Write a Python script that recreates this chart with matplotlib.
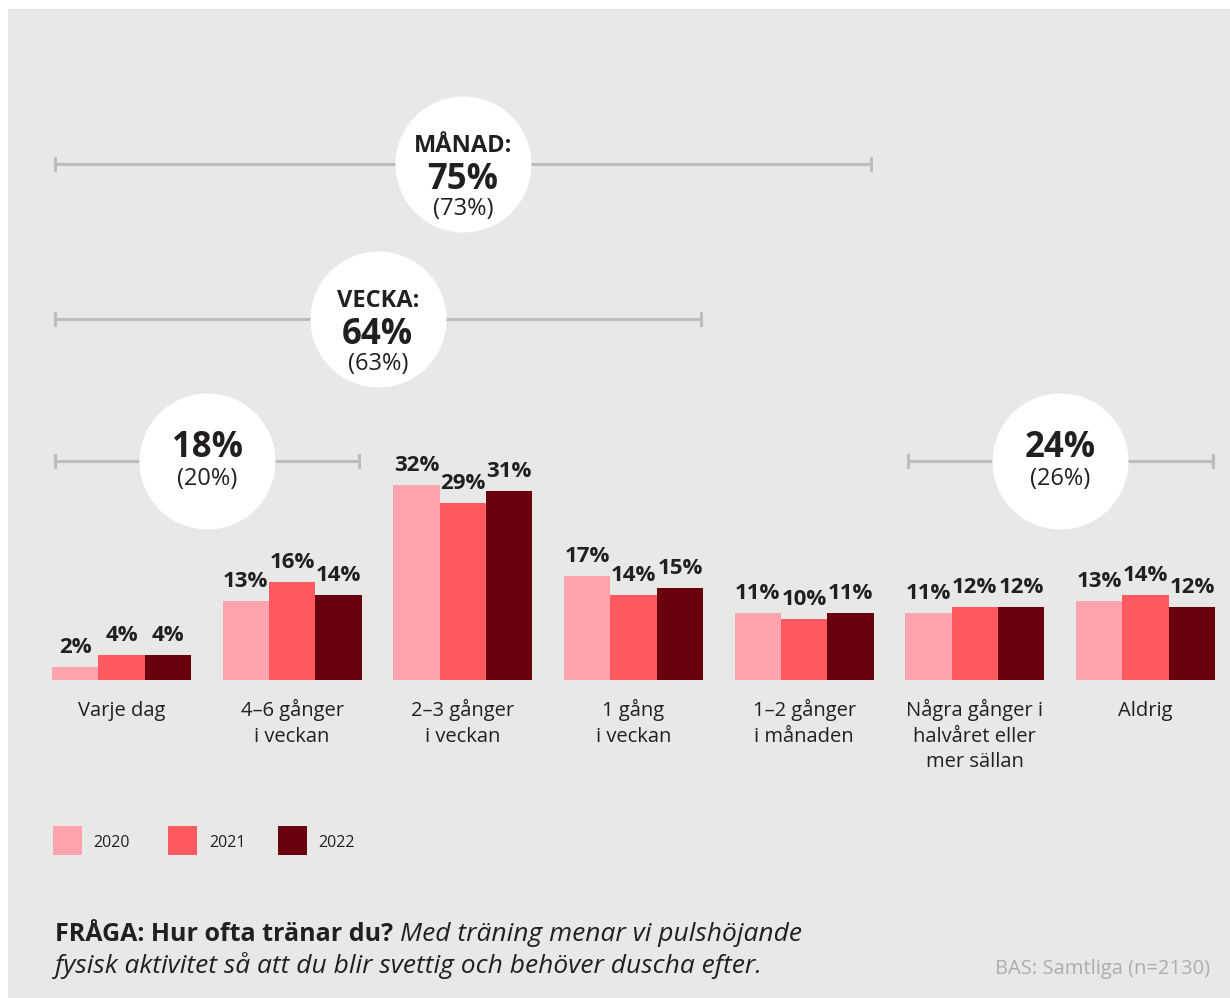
import numpy as np
import matplotlib
matplotlib.use('Agg')
import matplotlib.pyplot as plt
from matplotlib.patches import Rectangle

plt.rcParams['font.family'] = ['Open Sans', 'DejaVu Sans']

# Survey answers: share per frequency class and year
categories = ['Varje dag', '4–6 gånger\ni veckan', '2–3 gånger\ni veckan', '1 gång\ni veckan',
              '1–2 gånger\ni månaden', 'Några gånger i\nhalvåret eller\nmer sällan', 'Aldrig']
years = ['2020', '2021', '2022']
share_2020 = [2, 13, 32, 17, 11, 11, 13]
share_2021 = [4, 16, 29, 14, 10, 12, 14]
share_2022 = [4, 14, 31, 15, 11, 12, 12]

# Summary circles: heading, 2022 value, 2021 value, first and last category covered
summary_heads = ['MÅNAD:', 'VECKA:', '', '']
summary_now = [75, 64, 18, 24]
summary_prev = [73, 63, 20, 26]
summary_first = [0, 0, 0, 5]
summary_last = [4, 3, 1, 6]

colors = ['#ffa4ae', '#ff5a60', '#6a000e']
bg = '#e8e8e6'
ink = '#231f20'
bracket_col = '#bdbdbb'

W, H = 1230, 998
BASE = 679.5     # baseline of bars, pixels from top
PXPCT = 6.07     # pixels per percent
STEP = 170.67    # pixels between groups
X0 = 121.5       # centre of first group in pixels
LINE = 25.5      # line step of category labels in pixels


def dy(p):
    # pixel row (from top) -> data y
    return (BASE - p) / PXPCT


def fx(p):
    return p / W


def fy(p):
    return 1 - p / H


fig = plt.figure(figsize=(W / 100, H / 100), dpi=100, facecolor='white')
ax = fig.add_axes([0, 0, 1, 1])
ax.set_xlim(-X0 / STEP, (W - X0) / STEP)
ax.set_ylim(-(H - BASE) / PXPCT, BASE / PXPCT)
ax.axis('off')
ax.add_patch(Rectangle((fx(8), 0), 1 - fx(8), fy(9), transform=fig.transFigure,
                       facecolor=bg, edgecolor='none', zorder=0))

x = np.arange(len(categories))
bw = 46.4 / STEP
series = [share_2020, share_2021, share_2022]
for i, (vals, col) in enumerate(zip(series, colors)):
    xs = x + (i - 1) * bw
    ax.bar(xs, vals, width=bw, color=col, linewidth=0, zorder=2)
    for xi, v in zip(xs, vals):
        ax.text(xi, v + 14 / PXPCT, f'{v}%', ha='center', va='baseline',
                fontsize=16, fontweight='bold', color=ink, zorder=4)

# category names, one text line at a time
for xi, lab in zip(x, categories):
    for k, line in enumerate(lab.split('\n')):
        ax.text(xi, dy(716 + k * LINE), line, ha='center', va='baseline', fontsize=14.5,
                color=ink, zorder=4)

# brackets with white circles on top
bracket_rows = [164, 319, 461, 461]
for head, now, prev, a, b, row in zip(summary_heads, summary_now, summary_prev,
                                      summary_first, summary_last, bracket_rows):
    left = a - 1.5 * bw + 3 / STEP
    right = b + 1.5 * bw - 2.5 / STEP
    y = dy(row)
    ax.plot([left, right], [y, y], color=bracket_col, lw=2.2, zorder=1, solid_capstyle='butt')
    for xe in (left, right):
        ax.plot([xe, xe], [y - 1, y + 1], color=bracket_col, lw=2.2, zorder=1)
    cx = (left + right) / 2
    ax.scatter([cx], [y], s=(136 * 0.72) ** 2, color='white', linewidths=0, zorder=3)
    if head:
        ax.text(cx, dy(row - 12), head, ha='center', va='baseline', fontsize=17,
                fontweight='bold', color=ink, zorder=4)
        ax.text(cx, dy(row + 25), f'{now}%', ha='center', va='baseline', fontsize=25,
                fontweight='bold', color=ink, zorder=4)
        ax.text(cx, dy(row + 51), f'({prev}%)', ha='center', va='baseline', fontsize=17,
                color=ink, zorder=4)
    else:
        ax.text(cx, dy(row - 4), f'{now}%', ha='center', va='baseline', fontsize=25,
                fontweight='bold', color=ink, zorder=4)
        ax.text(cx, dy(row + 24), f'({prev}%)', ha='center', va='baseline', fontsize=17,
                color=ink, zorder=4)

# legend
for left, txt_left, yr, col in zip([53, 168, 278], [93, 209, 318], years, colors):
    fig.add_artist(Rectangle((fx(left), fy(855)), 29 / W, 29 / H,
                             transform=fig.transFigure, facecolor=col, edgecolor='none'))
    fig.text(fx(txt_left), fy(847), yr, fontsize=11.5, color=ink, va='baseline')

# question text
q_bold = fig.text(fx(55), fy(941), 'FRÅGA: Hur ofta tränar du?', fontsize=18,
                  fontweight='bold', color=ink, va='baseline')
fig.canvas.draw()
bb = q_bold.get_window_extent()
fig.text((bb.x1 + 7) / W, fy(941), 'Med träning menar vi pulshöjande', fontsize=19,
         style='italic', color=ink, va='baseline')
fig.text(fx(55), fy(973), 'fysisk aktivitet så att du blir svettig och behöver duscha efter.',
         fontsize=19, style='italic', color=ink, va='baseline')
fig.text(fx(1210), fy(974), 'BAS: Samtliga (n=2130)', fontsize=14.5, color='#adadab',
         ha='right', va='baseline')

fig.savefig('out.png', dpi=100, facecolor='white')
